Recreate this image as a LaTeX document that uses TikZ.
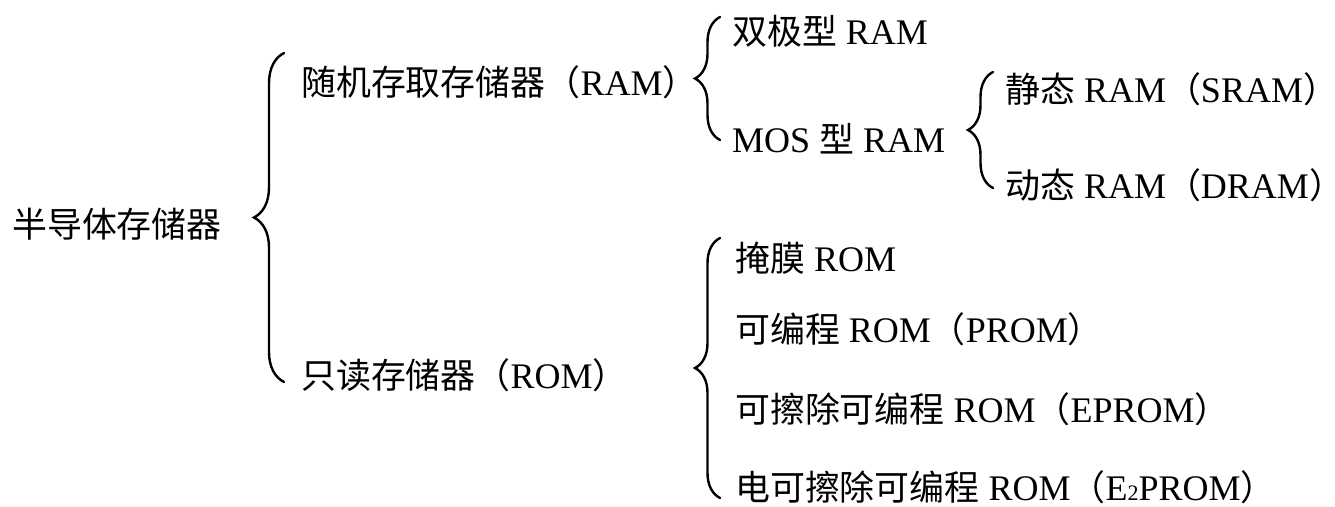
\documentclass[tikz,border=0pt]{standalone}
\usepackage{fontspec}
\setmainfont{Liberation Serif}
\newfontfamily\cjk[Scale=0.97]{Noto Sans CJK SC}
\usetikzlibrary{decorations.pathreplacing}
\newcommand{\zh}[1]{{\cjk #1}}
\newcommand{\zhclose}{\makebox[0.45em][l]{\cjk ）}}
\begin{document}
\begin{tikzpicture}[x=1pt,y=-1pt,
  lbl/.style={anchor=base west,inner sep=0pt,font=\fontsize{36}{42}\selectfont},
  bracelink/.style={decorate,line width=2.4pt,line cap=round,
    decoration={brace,amplitude=#1}}]
\useasboundingbox (0,0) rectangle (1335,506);
% text nodes
\node[lbl] (root) at (12,237) {\zh{半导体存储器}};
\node[lbl] (ram) at (301,95) {\zh{随机存取存储器（}RAM\zh{）}};
\node[lbl] (rom) at (301,388) {\zh{只读存储器（}ROM\zh{）}};
\node[lbl] (bip) at (732,44) {\zh{双极型} RAM};
\node[lbl] (mos) at (732,152) {MOS \zh{型} RAM};
\node[lbl] (sram) at (1005,102) {\zh{静态} RAM\zh{（}SRAM\zhclose};
\node[lbl] (dram) at (1005,198) {\zh{动态} RAM\zh{（}DRAM\zhclose};
\node[lbl] (mask) at (735,271) {\zh{掩膜} ROM};
\node[lbl] (prom) at (735,342) {\zh{可编程} ROM\zh{（}PROM\zh{）}};
\node[lbl] (eprom) at (735,422) {\zh{可擦除可编程} ROM\zh{（}EPROM\zh{）}};
\node[lbl] (eeprom) at (735,500) {\zh{电可擦除可编程} ROM\zh{（}E{\fontsize{22}{22}\selectfont 2}PROM\zh{）}};
% brace end points
\coordinate (b1t) at (284,53);  \coordinate (b1b) at (284,382);
\coordinate (b2t) at (720,17);  \coordinate (b2b) at (720,140);
\coordinate (b3t) at (993,72);  \coordinate (b3b) at (993,188);
\coordinate (b4t) at (720,238); \coordinate (b4b) at (720,498);
% braces
\draw[bracelink=30pt] (b1b) -- (b1t);
\draw[bracelink=25pt] (b2b) -- (b2t);
\draw[bracelink=25pt] (b3b) -- (b3t);
\draw[bracelink=25pt] (b4b) -- (b4t);
\end{tikzpicture}
\end{document}
